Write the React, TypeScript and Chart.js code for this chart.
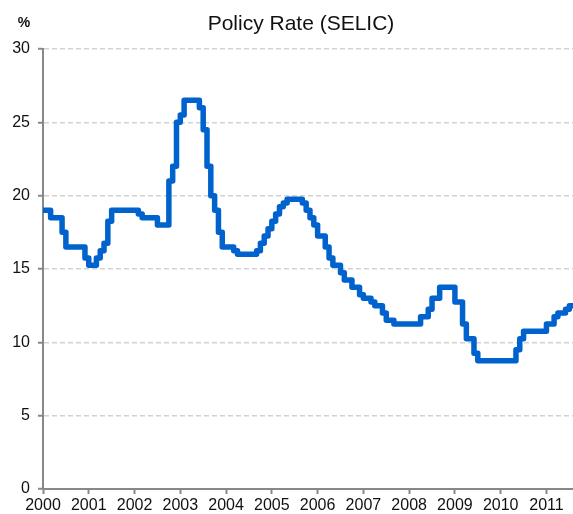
import React, { useEffect, useRef } from "react";
import { Chart, registerables } from "chart.js";

Chart.register(...registerables);

const TITLE = "Policy Rate (SELIC)";
const UNIT_LABEL = "%";
const START_YEAR = 2000;
// Monthly SELIC target rate, Jan 2000 .. Aug 2011
const rates2000 = [19, 19, 18.5, 18.5, 18.5, 17.5, 16.5, 16.5, 16.5, 16.5, 16.5, 15.75];
const rates2001 = [15.25, 15.25, 15.75, 16.25, 16.75, 18.25, 19, 19, 19, 19, 19, 19];
const rates2002 = [19, 18.75, 18.5, 18.5, 18.5, 18.5, 18, 18, 18, 21, 22, 25];
const rates2003 = [25.5, 26.5, 26.5, 26.5, 26.5, 26, 24.5, 22, 20, 19, 17.5, 16.5];
const rates2004 = [16.5, 16.5, 16.25, 16, 16, 16, 16, 16, 16.25, 16.75, 17.25, 17.75];
const rates2005 = [18.25, 18.75, 19.25, 19.5, 19.75, 19.75, 19.75, 19.75, 19.5, 19, 18.5, 18];
const rates2006 = [17.25, 17.25, 16.5, 15.75, 15.25, 15.25, 14.75, 14.25, 14.25, 13.75, 13.75, 13.25];
const rates2007 = [13, 13, 12.75, 12.5, 12.5, 12, 11.5, 11.5, 11.25, 11.25, 11.25, 11.25];
const rates2008 = [11.25, 11.25, 11.25, 11.75, 11.75, 12.25, 13, 13, 13.75, 13.75, 13.75, 13.75];
const rates2009 = [12.75, 12.75, 11.25, 10.25, 10.25, 9.25, 8.75, 8.75, 8.75, 8.75, 8.75, 8.75];
const rates2010 = [8.75, 8.75, 8.75, 8.75, 9.5, 10.25, 10.75, 10.75, 10.75, 10.75, 10.75, 10.75];
const rates2011 = [11.25, 11.25, 11.75, 12, 12, 12.25, 12.5, 12.5];

const yearTicks = [2000, 2001, 2002, 2003, 2004, 2005, 2006, 2007, 2008, 2009, 2010, 2011];
const X_MAX = 2011.58;
const Y_MIN = 0;
const Y_MAX = 30;
const Y_STEP = 5;

const allRates = [
  ...rates2000, ...rates2001, ...rates2002, ...rates2003, ...rates2004, ...rates2005,
  ...rates2006, ...rates2007, ...rates2008, ...rates2009, ...rates2010, ...rates2011,
];

const FONT = "'Liberation Sans', Arial, sans-serif";

export default function App() {
  const ref = useRef<HTMLCanvasElement | null>(null);

  useEffect(() => {
    if (!ref.current) return;
    const points = allRates.map((v, i) => ({ x: START_YEAR + i / 12, y: v }));

    const titlePlugin = {
      id: "customTitle",
      afterDraw(chart: any) {
        const ctx = chart.ctx;
        ctx.save();
        ctx.fillStyle = "#111";
        ctx.textBaseline = "middle";
        ctx.textAlign = "center";
        ctx.font = `21px ${FONT}`;
        ctx.fillText(TITLE, 301, 24);
        ctx.font = `bold 14px ${FONT}`;
        ctx.fillText(UNIT_LABEL, 24, 23);
        ctx.restore();
      },
    };

    const chart = new Chart(ref.current, {
      type: "line",
      data: {
        datasets: [
          {
            data: points,
            borderColor: "#0062CC",
            borderWidth: 5.5,
            pointRadius: 0,
            stepped: "before",
            fill: false,
            borderJoinStyle: "round",
            borderCapStyle: "butt",
          } as any,
        ],
      },
      options: {
        animation: false,
        responsive: false,
        maintainAspectRatio: false,
        layout: { padding: { top: 49, right: 0, left: 0, bottom: 0 } },
        plugins: { legend: { display: false }, tooltip: { enabled: false }, title: { display: false } },
        scales: {
          x: {
            type: "linear",
            min: START_YEAR,
            max: X_MAX,
            afterBuildTicks(scale: any) {
              scale.ticks = yearTicks.map((v) => ({ value: v }));
            },
            afterFit(scale: any) {
              scale.height = 25;
            },
            ticks: {
              autoSkip: false,
              maxRotation: 0,
              padding: 2,
              color: "#111",
              font: { family: FONT, size: 16 },
              callback: (v: any) => String(v),
            },
            grid: {
              drawOnChartArea: false,
              drawTicks: true,
              tickLength: 5,
              tickColor: "#888",
              tickWidth: 2,
            },
            border: { display: true, color: "#888", width: 2 },
          },
          y: {
            min: Y_MIN,
            max: Y_MAX,
            afterFit(scale: any) {
              scale.width = 43;
            },
            ticks: {
              stepSize: Y_STEP,
              padding: 8,
              color: "#111",
              font: { family: FONT, size: 16 },
            },
            grid: {
              color: (c: any) => (c.tick && c.tick.value === 0 ? "rgba(0,0,0,0)" : "#d2d2d2"),
              lineWidth: 1.5,
              drawTicks: true,
              tickLength: 5,
              tickColor: "#888",
              tickWidth: 2,
              tickBorderDash: [],
            },
            border: { display: true, color: "#888", width: 2, dash: [5, 3] },
          },
        },
      },
      plugins: [titlePlugin],
    } as any);
    return () => chart.destroy();
  }, []);

  return (
    <div style={{ position: "fixed", left: 0, top: 0, width: 573, height: 514, background: "#fff" }}>
      <canvas ref={ref} width={573} height={514} style={{ width: 573, height: 514, display: "block" }} />
    </div>
  );
}
